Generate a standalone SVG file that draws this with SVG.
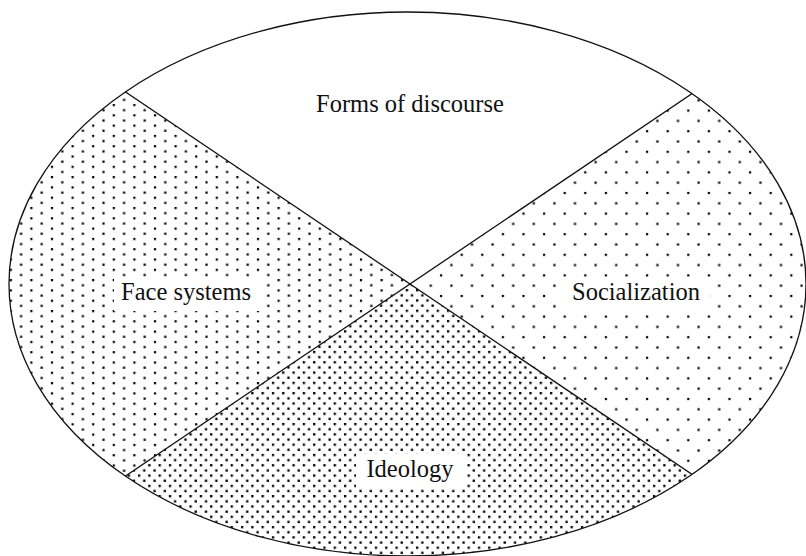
<svg xmlns="http://www.w3.org/2000/svg" width="806" height="556" viewBox="0 0 806 556">
  <style>
    .lbl { font-family: "Liberation Serif", "Times New Roman", serif; font-size: 24.5px; fill: #111111; text-anchor: middle; }
    .bg { fill: #ffffff; stroke: none; }
    .edge { stroke: #111111; stroke-width: 1.3; fill: none; }
    .dot { fill: #000000; }
  </style>
  <defs>
    <clipPath id="oval">
      <ellipse cx="407.5" cy="284" rx="398.5" ry="272"/>
    </clipPath>
    <pattern id="patFace" patternUnits="userSpaceOnUse" x="59.8" y="179.8" width="20.6" height="10.3">
      <rect class="dot" x="1.4" y="1.4" width="2.2" height="2.2"/>
      <rect class="dot" x="11.7" y="6.55" width="2.2" height="2.2"/>
    </pattern>
    <pattern id="patSocial" patternUnits="userSpaceOnUse" x="572.5" y="180.2" width="20.6" height="20.6">
      <rect class="dot" x="1.4" y="1.4" width="2.2" height="2.2"/>
      <rect class="dot" x="11.7" y="11.7" width="2.2" height="2.2"/>
    </pattern>
    <pattern id="patIdeo" patternUnits="userSpaceOnUse" x="306.5" y="478.2" width="10.3" height="10.3">
      <rect class="dot" x="1.4" y="1.4" width="2.3" height="2.3"/>
      <rect class="dot" x="6.55" y="6.55" width="2.3" height="2.3"/>
    </pattern>
  </defs>

  <rect x="0" y="0" width="806" height="556" fill="#ffffff"/>

  <g id="forms-of-discourse">
    <polygon points="410,284 -390,-256 1210,-256" fill="#ffffff" clip-path="url(#oval)"/>
    <text class="lbl" x="410" y="112">Forms of discourse</text>
  </g>

  <g id="face-systems">
    <polygon points="410,284 -390,-256 -390,824" fill="url(#patFace)" clip-path="url(#oval)"/>
    <rect class="bg" x="114" y="277" width="146" height="34"/>
    <text class="lbl" x="186" y="300">Face systems</text>
  </g>

  <g id="socialization">
    <polygon points="410,284 1210,-256 1210,824" fill="url(#patSocial)" clip-path="url(#oval)"/>
    <rect class="bg" x="562" y="277" width="148" height="34"/>
    <text class="lbl" x="636" y="300">Socialization</text>
  </g>

  <g id="ideology">
    <polygon points="410,284 -390,824 1210,824" fill="url(#patIdeo)" clip-path="url(#oval)"/>
    <rect class="bg" x="356" y="454" width="110" height="34"/>
    <text class="lbl" x="410" y="477">Ideology</text>
  </g>

  <g id="connectors" clip-path="url(#oval)">
    <line class="edge" x1="-390" y1="-256" x2="1210" y2="824"/>
    <line class="edge" x1="1210" y1="-256" x2="-390" y2="824"/>
  </g>

  <g id="outline">
    <ellipse class="edge" cx="407.5" cy="284" rx="398.5" ry="272"/>
  </g>
</svg>
